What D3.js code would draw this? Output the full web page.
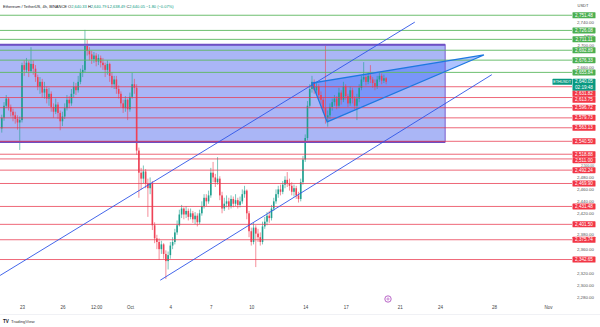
<!DOCTYPE html>
<html>
<head>
<meta charset="utf-8">
<script src="https://cdn.jsdelivr.net/npm/d3@7"></script>
<style>
  body { margin: 0; background: #fff; }
  svg { display: block; font-family: "Liberation Sans", Arial, sans-serif; }
</style>
</head>
<body>
<svg id="chart" width="600" height="327"></svg>
<script>
// ETHUSDT 4h candles, first bar opens 2024-09-21 12:00 UTC
const firstBar = '2024-09-21T12:00:00Z';
const opens = [
  2562, 2580, 2600, 2612, 2598, 2590, 2584, 2578, 2572, 2576,
  2668, 2660, 2672, 2658, 2670, 2662, 2648, 2632, 2640, 2622,
  2628, 2612, 2620, 2598, 2590, 2602, 2588, 2574, 2582, 2596,
  2610, 2604, 2620, 2632, 2626, 2640, 2655, 2660, 2700, 2692,
  2686, 2678, 2684, 2674, 2680, 2672, 2668, 2660, 2670, 2650,
  2636, 2644, 2628, 2620, 2604, 2596, 2610, 2594, 2615, 2636,
  2630, 2525, 2488, 2478, 2490, 2470, 2462, 2470, 2400, 2378,
  2372, 2360, 2368, 2352, 2340, 2350, 2366, 2372, 2388, 2400,
  2418, 2428, 2418, 2424, 2414, 2420, 2410, 2416, 2405, 2420,
  2432, 2446, 2440, 2450, 2488, 2480, 2472, 2478, 2450, 2428,
  2436, 2440, 2432, 2444, 2436, 2442, 2434, 2440, 2452, 2458,
  2420, 2390, 2372, 2396, 2386, 2380, 2372, 2398, 2406, 2416,
  2412, 2428, 2440, 2452, 2460, 2456, 2468, 2476, 2470, 2466,
  2456, 2462, 2450, 2444, 2472, 2510, 2546, 2600, 2628, 2640,
  2626, 2632, 2618, 2610, 2596, 2580, 2584, 2598, 2606, 2612,
  2600, 2622, 2610, 2632, 2616, 2604, 2626, 2612, 2600, 2612,
  2630, 2644, 2648, 2640, 2650, 2644, 2638, 2632, 2644, 2650,
  2642, 2646
];
const highs = [
  2585, 2606, 2618, 2614, 2602, 2595, 2590, 2584, 2582, 2672,
  2676, 2680, 2675, 2698, 2676, 2668, 2652, 2648, 2645, 2640,
  2632, 2630, 2624, 2604, 2612, 2606, 2592, 2590, 2604, 2618,
  2616, 2628, 2640, 2638, 2650, 2662, 2668, 2727, 2710, 2698,
  2692, 2690, 2688, 2686, 2684, 2680, 2672, 2676, 2672, 2656,
  2650, 2650, 2634, 2624, 2610, 2616, 2612, 2622, 2655, 2645,
  2636, 2530, 2496, 2500, 2494, 2478, 2480, 2474, 2405, 2384,
  2378, 2374, 2370, 2358, 2356, 2372, 2380, 2394, 2408, 2426,
  2434, 2430, 2432, 2428, 2428, 2424, 2422, 2420, 2426, 2440,
  2452, 2452, 2458, 2496, 2506, 2486, 2514, 2482, 2456, 2446,
  2450, 2446, 2450, 2448, 2452, 2446, 2448, 2460, 2466, 2460,
  2424, 2396, 2404, 2400, 2394, 2388, 2406, 2414, 2422, 2424,
  2434, 2446, 2460, 2466, 2468, 2474, 2482, 2489, 2478, 2472,
  2468, 2466, 2456, 2478, 2516, 2552, 2608, 2636, 2650, 2644,
  2640, 2636, 2624, 2614, 2700, 2592, 2604, 2612, 2618, 2616,
  2630, 2626, 2640, 2636, 2620, 2632, 2630, 2616, 2620, 2636,
  2650, 2673, 2652, 2656, 2668, 2648, 2644, 2650, 2656, 2654,
  2652, 2648
];
const lows = [
  2555, 2575, 2596, 2592, 2582, 2574, 2570, 2560, 2526, 2572,
  2650, 2655, 2648, 2655, 2652, 2640, 2626, 2620, 2614, 2612,
  2604, 2600, 2590, 2580, 2586, 2578, 2559, 2566, 2578, 2592,
  2596, 2600, 2614, 2618, 2622, 2636, 2648, 2656, 2684, 2676,
  2670, 2672, 2666, 2668, 2664, 2660, 2648, 2652, 2640, 2630,
  2628, 2620, 2612, 2598, 2588, 2590, 2576, 2590, 2612, 2620,
  2518, 2446, 2460, 2470, 2462, 2414, 2452, 2392, 2370, 2360,
  2342, 2352, 2344, 2310, 2326, 2344, 2360, 2368, 2384, 2398,
  2412, 2410, 2412, 2408, 2410, 2404, 2402, 2398, 2402, 2416,
  2428, 2432, 2436, 2446, 2472, 2464, 2468, 2442, 2420, 2424,
  2430, 2426, 2428, 2430, 2432, 2428, 2430, 2436, 2446, 2410,
  2380, 2366, 2368, 2330, 2372, 2366, 2368, 2394, 2400, 2404,
  2408, 2424, 2436, 2446, 2450, 2452, 2462, 2464, 2458, 2450,
  2448, 2444, 2438, 2440, 2468, 2506, 2542, 2596, 2622, 2620,
  2618, 2610, 2602, 2588, 2570, 2565, 2578, 2592, 2600, 2594,
  2596, 2602, 2606, 2610, 2598, 2600, 2604, 2594, 2576, 2606,
  2626, 2640, 2634, 2636, 2638, 2630, 2626, 2628, 2640, 2636,
  2638, 2636
];
const closes = [
  2580, 2600, 2612, 2598, 2590, 2584, 2578, 2572, 2576, 2668,
  2660, 2672, 2658, 2670, 2662, 2648, 2632, 2640, 2622, 2628,
  2612, 2620, 2598, 2590, 2602, 2588, 2574, 2582, 2596, 2610,
  2604, 2620, 2632, 2626, 2640, 2655, 2660, 2700, 2692, 2686,
  2678, 2684, 2674, 2680, 2672, 2668, 2660, 2670, 2650, 2636,
  2644, 2628, 2620, 2604, 2596, 2610, 2594, 2615, 2636, 2630,
  2525, 2488, 2478, 2490, 2470, 2462, 2470, 2400, 2378, 2372,
  2360, 2368, 2352, 2340, 2350, 2366, 2372, 2388, 2400, 2418,
  2428, 2418, 2424, 2414, 2420, 2410, 2416, 2405, 2420, 2432,
  2446, 2440, 2450, 2488, 2480, 2472, 2478, 2450, 2428, 2436,
  2440, 2432, 2444, 2436, 2442, 2434, 2440, 2452, 2458, 2420,
  2390, 2372, 2396, 2386, 2380, 2372, 2398, 2406, 2416, 2412,
  2428, 2440, 2452, 2460, 2456, 2468, 2476, 2470, 2466, 2456,
  2462, 2450, 2444, 2472, 2510, 2546, 2600, 2628, 2640, 2626,
  2632, 2618, 2610, 2596, 2580, 2584, 2598, 2606, 2612, 2600,
  2622, 2610, 2632, 2616, 2604, 2626, 2612, 2600, 2612, 2630,
  2644, 2648, 2640, 2650, 2644, 2638, 2632, 2644, 2650, 2642,
  2646, 2640.05
];

// drawn levels
const resistanceLevels = [2751.48, 2726.08, 2711.11, 2692.89, 2676.33, 2655.84];
const supportLevels = [2631.82, 2613.75, 2596.72, 2579.73, 2563.13, 2540.50, 2518.88,
  2511.00, 2492.24, 2469.90, 2431.48, 2401.50, 2375.74, 2342.65];
const lastPrice = 2640.05;
const countdown = '02:19:48';

// drawings (time, price)
const zoneBox = { from: '2024-09-21T06:00:00Z', to: '2024-10-24T09:00:00Z', top: 2702, bottom: 2539.5 };
const upperChannel = [['2024-09-21T09:00:00Z', 2316], ['2024-10-22T03:00:00Z', 2740]];
const lowerChannel = [['2024-10-03T06:00:00Z', 2308], ['2024-10-27T20:00:00Z', 2652]];
const wedge = [['2024-10-14T12:00:00Z', 2638], ['2024-10-15T15:00:00Z', 2573], ['2024-10-27T06:00:00Z', 2685]];

// axes
const priceTicks = [2740, 2720, 2700, 2660, 2500, 2480, 2460, 2440, 2420, 2380, 2360, 2320, 2300, 2280];
const timeTicks = ['2024-09-23', '2024-09-26', '2024-09-28T12:00:00Z', '2024-10-01', '2024-10-04', '2024-10-07',
  '2024-10-10', '2024-10-14', '2024-10-17', '2024-10-21', '2024-10-24', '2024-10-28', '2024-11-01'];
const timeLabels = ['23', '26', '12:00', 'Oct', '4', '7', '10', '14', '17', '21', '24', '28', 'Nov'];

const UP = '#1fa08f';
const DOWN = '#ee4256';
const PLOT_W = 572;
const PLOT_H = 300;

const main = () => {
  const svg = d3.select('#chart');
  const fmt = d3.format(',.2f');

  const x = d3.scaleUtc()
    .domain([new Date('2024-09-23T00:00:00Z'), new Date('2024-11-01T00:00:00Z')])
    .range([22, 548]);
  const y = d3.scaleLinear().domain([2300, 2700]).range([285, 46]);

  const t0 = new Date(firstBar);
  const bars = closes.map((c, i) => ({
    t: d3.utcHour.offset(t0, 4 * i), o: opens[i], h: highs[i], l: lows[i], c
  }));

  svg.append('defs').append('clipPath').attr('id', 'plot')
    .append('rect').attr('width', PLOT_W).attr('height', PLOT_H);

  const plot = svg.append('g').attr('clip-path', 'url(#plot)');

  // zone + wedge fills sit under the candles
  plot.append('rect')
    .attr('x', x(new Date(zoneBox.from)))
    .attr('y', y(zoneBox.top))
    .attr('width', x(new Date(zoneBox.to)) - x(new Date(zoneBox.from)))
    .attr('height', y(zoneBox.bottom) - y(zoneBox.top))
    .attr('fill', 'rgba(66,94,235,0.45)');

  const wedgePts = wedge.map(([t, p]) => [x(new Date(t)), y(p)]);
  plot.append('path')
    .attr('d', d3.line()(wedgePts) + 'Z')
    .attr('fill', 'rgba(41,98,255,0.38)');

  // candles
  const bw = 1.6;
  const g = plot.append('g');
  bars.forEach((b) => {
    const col = b.c >= b.o ? UP : DOWN;
    const cx = x(b.t);
    g.append('line')
      .attr('x1', cx).attr('x2', cx)
      .attr('y1', y(b.h)).attr('y2', y(b.l))
      .attr('stroke', col).attr('stroke-width', 0.6);
    g.append('rect')
      .attr('x', cx - bw / 2)
      .attr('y', y(Math.max(b.o, b.c)))
      .attr('width', bw)
      .attr('height', Math.max(0.6, Math.abs(y(b.o) - y(b.c))))
      .attr('fill', col);
  });

  // box border
  const bx0 = x(new Date(zoneBox.from));
  const bx1 = x(new Date(zoneBox.to));
  plot.append('rect')
    .attr('x', bx0).attr('y', y(zoneBox.top))
    .attr('width', bx1 - bx0).attr('height', y(zoneBox.bottom) - y(zoneBox.top))
    .attr('fill', 'none').attr('stroke', '#7b5ccc').attr('stroke-width', 1);
  [zoneBox.top, zoneBox.bottom].forEach((p) => {
    plot.append('line')
      .attr('x1', bx0).attr('x2', bx1).attr('y1', y(p)).attr('y2', y(p))
      .attr('stroke', '#6f4fc4').attr('stroke-width', 2);
  });

  // horizontal levels
  resistanceLevels.forEach((p) => {
    plot.append('line').attr('x1', 0).attr('x2', PLOT_W).attr('y1', y(p)).attr('y2', y(p))
      .attr('stroke', '#5cb860').attr('stroke-width', 0.9);
  });
  supportLevels.forEach((p) => {
    plot.append('line').attr('x1', 0).attr('x2', PLOT_W).attr('y1', y(p)).attr('y2', y(p))
      .attr('stroke', '#e8394d').attr('stroke-width', 0.9).attr('stroke-opacity', 0.85);
  });

  // channel
  [upperChannel, lowerChannel].forEach((seg) => {
    plot.append('line')
      .attr('x1', x(new Date(seg[0][0]))).attr('y1', y(seg[0][1]))
      .attr('x2', x(new Date(seg[1][0]))).attr('y2', y(seg[1][1]))
      .attr('stroke', '#2f55e8').attr('stroke-width', 0.9);
  });

  // wedge outline
  plot.append('path')
    .attr('d', d3.line()(wedgePts) + 'Z')
    .attr('fill', 'none').attr('stroke', '#1e78e0').attr('stroke-width', 1.2);

  // event marker
  const ev = svg.append('g').attr('transform', 'translate(388,299)');
  ev.append('circle').attr('r', 3.2).attr('fill', '#fff').attr('stroke', '#9c27b0').attr('stroke-width', 0.7);
  ev.append('circle').attr('r', 1.1).attr('fill', 'none').attr('stroke', '#9c27b0').attr('stroke-width', 0.5);

  // coloured level labels with simple collision push-down
  const LH = 6;
  const labels = [];
  labels.push({ y: y(lastPrice), h: 12, cur: true });
  resistanceLevels.forEach((p) => labels.push({ y: y(p), h: LH, text: fmt(p), fill: '#4caf50' }));
  supportLevels.forEach((p) => labels.push({ y: y(p), h: LH, text: fmt(p), fill: '#f23645' }));
  labels.sort((a, b) => a.y - b.y);
  let bottom = -Infinity;
  labels.forEach((l) => {
    let top = l.cur ? l.y - 3 : l.y - l.h / 2;
    if (top < bottom) top = bottom;
    l.top = top;
    bottom = top + l.h;
  });

  // price axis gray ticks, fitted into the gaps between coloured labels
  const yAxis = svg.append('g')
    .call(d3.axisRight(y).tickValues(priceTicks).tickFormat(fmt).tickSize(0));
  yAxis.select('.domain').remove();
  yAxis.selectAll('text').each(function (d) {
    const cy = y(d);
    let lo = 0;
    let hi = 300;
    labels.forEach((l) => {
      const mid = l.top + l.h / 2;
      if (mid < cy) lo = Math.max(lo, l.top + l.h);
      else hi = Math.min(hi, l.top);
    });
    const fs = Math.min(4.4, (hi - lo - 0.2) / 1.1);
    const half = fs * 0.55;
    const c = Math.max(lo + half, Math.min(hi - half, cy));
    d3.select(this)
      .attr('x', 594).attr('y', c - cy).attr('text-anchor', 'end')
      .attr('font-size', fs).attr('fill', '#555').attr('font-family', null);
  });

  const lab = svg.append('g');
  labels.forEach((l) => {
    if (l.cur) {
      lab.append('rect').attr('x', 572.5).attr('y', l.top).attr('width', 23).attr('height', l.h)
        .attr('fill', '#089981').attr('rx', 0.6);
      lab.append('text').attr('x', 584).attr('y', l.top + 4.5).attr('text-anchor', 'middle')
        .attr('font-size', 4.6).attr('fill', '#fff').text(fmt(lastPrice));
      lab.append('text').attr('x', 584).attr('y', l.top + 10.2).attr('text-anchor', 'middle')
        .attr('font-size', 4.6).attr('fill', '#fff').text(countdown);
      // symbol tag
      lab.append('rect').attr('x', 552.5).attr('y', l.top).attr('width', 19.5).attr('height', 6)
        .attr('fill', '#089981').attr('rx', 0.6);
      lab.append('text').attr('x', 562.2).attr('y', l.top + 4.4).attr('text-anchor', 'middle')
        .attr('font-size', 3.8).attr('fill', '#fff').text('ETHUSDT');
    } else {
      lab.append('rect').attr('x', 572.5).attr('y', l.top).attr('width', 23).attr('height', l.h)
        .attr('fill', l.fill).attr('rx', 0.6);
      lab.append('text').attr('x', 584).attr('y', l.top + 4.4).attr('text-anchor', 'middle')
        .attr('font-size', 4.6).attr('fill', '#fff').text(l.text);
    }
  });

  svg.append('text').attr('x', 583).attr('y', 7).attr('text-anchor', 'middle')
    .attr('font-size', 4).attr('fill', '#444').text('USDT');

  // time axis
  const xAxis = svg.append('g').attr('transform', 'translate(0,306)')
    .call(d3.axisBottom(x)
      .tickValues(timeTicks.map((d) => new Date(d)))
      .tickFormat((d, i) => timeLabels[i])
      .tickSize(0).tickPadding(0));
  xAxis.select('.domain').remove();
  xAxis.selectAll('text').attr('font-size', 4.5).attr('fill', '#444').attr('font-family', null);

  svg.append('line').attr('x1', 0).attr('x2', 600).attr('y1', 314.5).attr('y2', 314.5)
    .attr('stroke', '#e6e8ee').attr('stroke-width', 0.6);

  // legend
  const leg = svg.append('text').attr('x', 3).attr('y', 7.5).attr('font-size', 4);
  leg.append('tspan').attr('fill', '#131722').text('Ethereum / TetherUS, 4h, BINANCE  ');
  [['O', '2,640.33'], ['H', '2,640.79'], ['L', '2,638.49'], ['C', '2,640.05']].forEach(([k, v]) => {
    leg.append('tspan').attr('fill', '#131722').text(k);
    leg.append('tspan').attr('fill', '#089981').text(v + ' ');
  });
  leg.append('tspan').attr('fill', '#089981').text('\u22121.80 (\u22120.07%)');

  // watermark
  const wm = svg.append('g').attr('transform', 'translate(3,323)');
  wm.append('text').attr('font-size', 4.6).attr('font-weight', 'bold').attr('fill', '#131722').text('TV');
  wm.append('text').attr('x', 8).attr('font-size', 4.3).attr('fill', '#333').text('TradingView');
};
main();
</script>
</body>
</html>
